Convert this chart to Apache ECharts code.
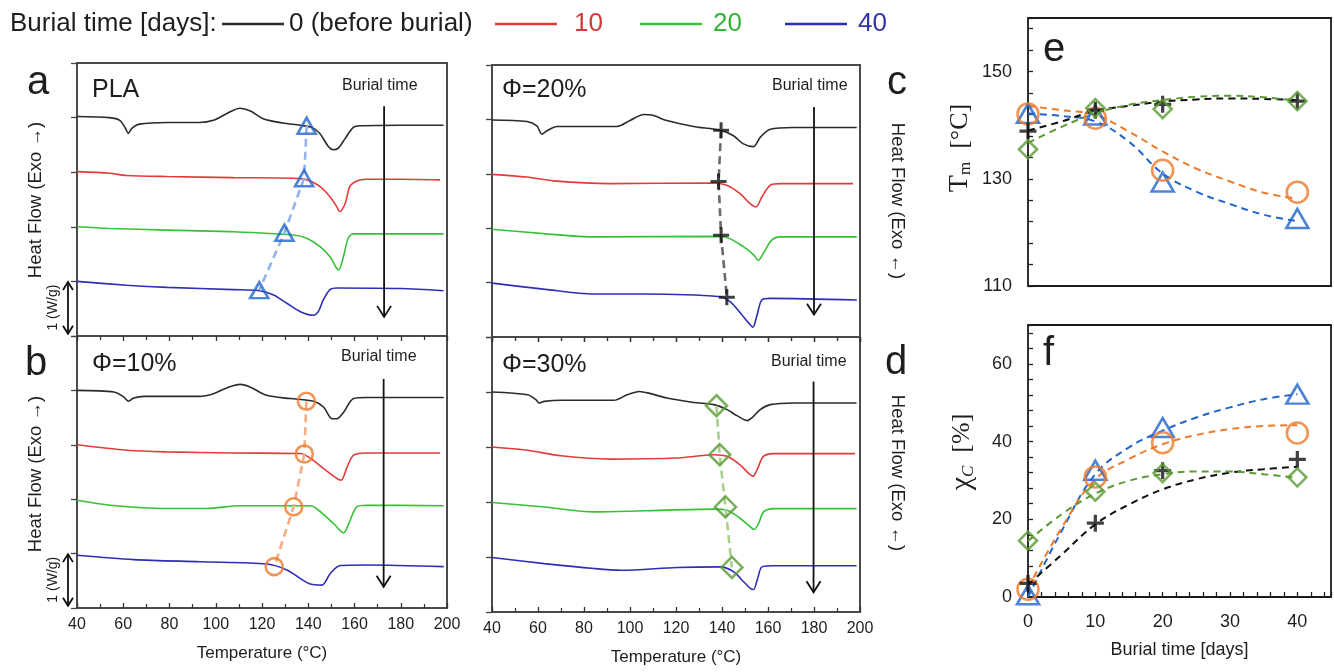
<!DOCTYPE html>
<html>
<head>
<meta charset="utf-8">
<title>PLA burial – DSC, Tm and crystallinity</title>
<script src="https://cdn.jsdelivr.net/npm/echarts/dist/echarts.min.js"></script>
<style>
  html, body { margin: 0; padding: 0; background: #fff; }
  #chart { width: 1334px; height: 672px; }
</style>
</head>
<body>
<div id="chart"></div>
<script>
// ---------------------------------------------------------------------------
// Data
// ---------------------------------------------------------------------------
const burialLabels = ['0 (before burial)', '10', '20', '40'];

// DSC heating traces: [temperature (°C), heat flow (W/g, traces stacked 1 W/g apart)]
const plaDay0 = [[40,4.02],[54,4.0],[58.5,3.95],[61,3.8],[62.2,3.71],[63.6,3.8],[67,3.88],[79,3.91],[93,3.91],[99,3.95],[105,4.08],[110.5,4.17],[115,4.12],[120.5,3.98],[129,3.9],[136.5,3.86],[141.5,3.82],[145,3.71],[148.7,3.47],[150.8,3.41],[153,3.44],[156,3.62],[159.5,3.82],[162.5,3.85],[180,3.86],[198.5,3.86]];
const plaDay10 = [[40,3.01],[54,2.98],[61.5,2.94],[79,2.92],[107.5,2.9],[133.5,2.89],[139.3,2.86],[145,2.74],[149.4,2.55],[152.3,2.37],[153.7,2.28],[156,2.43],[158,2.74],[161,2.84],[165,2.87],[180,2.87],[197,2.86]];
const plaDay20 = [[40,2.0],[54,1.97],[79,1.94],[107.5,1.91],[133.5,1.85],[139.3,1.79],[145,1.64],[149.4,1.45],[152.3,1.24],[153.2,1.21],[155.2,1.45],[157.3,1.79],[159.5,1.87],[180,1.87],[198.5,1.87]];
const plaDay40 = [[40,1.0],[61.5,0.93],[79,0.89],[107.5,0.85],[119,0.83],[125,0.75],[130.7,0.6],[136.4,0.45],[142.2,0.38],[144.4,0.45],[146.5,0.66],[149.4,0.85],[152.3,0.88],[180,0.87],[198.5,0.83]];

const phi10Day0 = [[40,4.0],[56,3.97],[60.2,3.88],[62.3,3.8],[64.5,3.86],[69,3.89],[93,3.89],[99,3.94],[105,4.05],[110.6,4.11],[115,4.06],[122,3.91],[132.3,3.85],[142.3,3.8],[146.7,3.69],[150.3,3.48],[152.4,3.48],[155.3,3.6],[159.6,3.85],[165.4,3.87],[198.6,3.87]];
const phi10Day10 = [[40,3.0],[61.6,2.9],[79,2.87],[107.7,2.85],[136.6,2.84],[141,2.75],[146.7,2.56],[152.4,2.38],[154.2,2.35],[156.8,2.59],[159.6,2.81],[165.4,2.85],[197,2.85]];
const phi10Day20 = [[40,1.98],[54.4,1.89],[79,1.83],[96,1.83],[110.6,1.88],[141,1.88],[145.2,1.77],[151,1.55],[155.3,1.38],[157.5,1.55],[161,1.86],[165.4,1.89],[198.6,1.88]];
const phi10Day40 = [[40,0.97],[64.5,0.89],[93.3,0.85],[122.2,0.81],[130.8,0.7],[136.6,0.54],[140.9,0.44],[145.9,0.42],[149.6,0.64],[153.9,0.78],[165.4,0.79],[198.6,0.76]];

const phi20Day0 = [[40,3.99],[55.2,3.96],[59.5,3.88],[61.7,3.73],[63.9,3.79],[68.2,3.87],[94.3,3.87],[100,3.98],[106,4.09],[109.5,4.08],[116,3.98],[127.6,3.87],[139.2,3.8],[145,3.7],[149.3,3.55],[153.7,3.5],[156.6,3.67],[161,3.82],[171,3.85],[198.6,3.85]];
const phi20Day10 = [[40,2.99],[55.2,2.94],[66.8,2.87],[91.4,2.82],[134.8,2.83],[142,2.79],[148,2.63],[152.2,2.45],[154.8,2.39],[157.3,2.57],[161,2.79],[165.3,2.82],[197,2.82]];
const phi20Day20 = [[40,1.98],[62.4,1.9],[84.2,1.84],[134.8,1.85],[142,1.83],[149.3,1.66],[153.7,1.51],[155.8,1.41],[158,1.54],[161.6,1.78],[165.3,1.84],[198.6,1.84]];
const phi20Day40 = [[40,0.99],[62.4,0.88],[84.2,0.79],[106,0.79],[139.2,0.74],[143.5,0.65],[148,0.44],[151.5,0.26],[153.4,0.18],[155.1,0.38],[157.3,0.68],[161,0.71],[198.6,0.68]];

const phi30Day0 = [[40,4.0],[55.5,3.95],[59.1,3.86],[60.5,3.8],[62.7,3.83],[70,3.85],[93,3.85],[98.8,3.95],[104,4.01],[109,3.97],[116,3.89],[127.7,3.81],[136.4,3.77],[142.2,3.68],[146.5,3.57],[151,3.48],[153,3.53],[156.6,3.68],[161,3.77],[171,3.8],[198.5,3.8]];
const phi30Day10 = [[40,3.0],[55.5,2.94],[70,2.84],[91.6,2.78],[120.5,2.8],[136.4,2.86],[142.2,2.83],[148,2.67],[151.6,2.52],[153.5,2.47],[155.2,2.58],[158,2.83],[162.4,2.88],[197.8,2.88]];
const phi30Day20 = [[40,1.99],[62.7,1.91],[84.4,1.82],[106,1.84],[136.4,1.87],[142.2,1.85],[148,1.7],[152.3,1.55],[154,1.5],[155.9,1.61],[158.1,1.82],[162.4,1.88],[198.5,1.88]];
const phi30Day40 = [[40,0.99],[62.7,0.88],[84.4,0.79],[96,0.76],[120.5,0.81],[139.3,0.82],[145.1,0.73],[149.4,0.55],[152.3,0.43],[153.7,0.41],[155.5,0.61],[157.4,0.82],[162.4,0.84],[198.5,0.84]];

// Melting onset marked on each trace (0, 10, 20, 40 days)
const plaOnset   = [[139.3,3.85],[138.2,2.89],[129.7,1.89],[118.8,0.84]];
const phi10Onset = [[139.2,3.80],[138.3,2.83],[133.7,1.86],[125.3,0.76]];
const phi20Onset = [[139.6,3.80],[138.5,2.86],[139.6,1.87],[142.1,0.73]];
const phi30Onset = [[137.6,3.75],[139.0,2.86],[141.5,1.91],[144.3,0.81]];

// Melting temperature Tm (°C) versus burial time (days)
const sampleDays = [0, 10, 20, 40];
const tmPLA   = [142.2, 141.9, 129.4, 122.6];
const tmPhi10 = [142.1, 141.3, 131.6, 127.5];
const tmPhi20 = [138.9, 142.8, 143.9, 144.5];
const tmPhi30 = [135.5, 143.2, 143.0, 144.5];

// Crystallinity χc (%) versus burial time (days)
const xcPLA   = [0.6, 32.6, 43.6, 52.2];
const xcPhi10 = [2.0, 30.9, 39.7, 42.2];
const xcPhi20 = [3.5, 19.0, 32.5, 35.4];
const xcPhi30 = [14.5, 27.1, 31.9, 30.8];

// Fitted trend curves
const fitDays = [0, 5, 10, 15, 20, 25, 30, 35, 40];
const tmFitPLA   = [142.2, 141.7, 140.7, 136.9, 131.0, 127.6, 125.3, 123.3, 122.1];
const tmFitPhi10 = [143.6, 142.8, 141.9, 138.8, 135.1, 131.9, 129.5, 127.4, 126.3];
const tmFitPhi20 = [139.0, 140.7, 142.7, 143.6, 144.4, 144.8, 145.0, 144.9, 144.7];
const tmFitPhi30 = [136.7, 139.7, 142.2, 143.8, 144.7, 145.3, 145.5, 145.2, 144.6];
const xcFitPLA   = [0.0, 17.0, 31.6, 38.5, 42.8, 46.2, 48.8, 50.9, 52.2];
const xcFitPhi10 = [2.3, 17.8, 30.3, 35.5, 39.3, 41.7, 43.2, 44.0, 44.2];
const xcFitPhi20 = [3.2, 10.9, 18.7, 23.8, 27.7, 30.3, 32.0, 32.9, 33.5];
const xcFitPhi30 = [14.4, 21.3, 26.6, 29.9, 31.6, 32.3, 32.3, 31.6, 30.7];

// ---------------------------------------------------------------------------
// Styling
// ---------------------------------------------------------------------------
const FONT = '"Liberation Sans", Arial, Helvetica, sans-serif';
const SERIF = '"Liberation Serif", "Times New Roman", serif';
const INK = '#1e1e1e';

const curveColors = ['#2b2b2b', '#e23b3b', '#36c236', '#2e2eb6'];
const legendTextColors = ['#1e1e1e', '#cf3a3a', '#34b334', '#3434a6'];
const legendLefts = [222, 495, 640, 785];
const legendTextPads = [0, 12, 6, 6];

const CROSS = 'path://M-1.7,-9L1.7,-9L1.7,-1.7L9,-1.7L9,1.7L1.7,1.7L1.7,9L-1.7,9L-1.7,1.7L-9,1.7L-9,-1.7L-1.7,-1.7Z';

const sampleStyles = {
  PLA:   { name: 'PLA',   symbol: 'triangle', color: '#2265cc', hollow: true },
  phi10: { name: 'Φ=10%', symbol: 'circle',   color: '#ee7a2c', hollow: true },
  phi20: { name: 'Φ=20%', symbol: CROSS,      color: '#111111', hollow: false },
  phi30: { name: 'Φ=30%', symbol: 'diamond',  color: '#5b9b35', hollow: true }
};

function markerItemStyle(s, bw) {
  return s.hollow
    ? { color: 'rgba(255,255,255,0)', borderColor: s.color, borderWidth: bw }
    : { color: s.color, borderWidth: 0 };
}

// ---------------------------------------------------------------------------
// Layout: a, b (left column), c, d (middle column), e, f (right column)
// ---------------------------------------------------------------------------
const grid = [
  { left: 77,   top: 63,  width: 370, height: 273 },
  { left: 77,   top: 336, width: 370, height: 272 },
  { left: 492,  top: 65,  width: 368, height: 272 },
  { left: 492,  top: 337, width: 368, height: 275 },
  { left: 1028, top: 18,  width: 303, height: 268 },
  { left: 1028, top: 325, width: 303, height: 272 }
].map((g, i) => Object.assign({
  show: true,
  borderColor: i < 4 ? '#4a4a4a' : '#1a1a1a',
  borderWidth: i < 4 ? 2 : 1.8,
  backgroundColor: 'transparent'
}, g));

function tempAxis(gridIndex, position, ticks, labels) {
  return {
    type: 'value', gridIndex, position, min: 40, max: 200, interval: 20,
    axisLine: { show: false },
    axisTick: { show: ticks, inside: true, length: 5, lineStyle: { color: '#333', width: 1.3 } },
    minorTick: { show: ticks, splitNumber: 2, length: 4, lineStyle: { color: '#333', width: 1.2 } },
    splitLine: { show: false },
    axisLabel: { show: labels, margin: 9, fontSize: 16, color: INK, fontFamily: FONT },
    name: labels ? 'Temperature (°C)' : '',
    nameLocation: 'middle', nameGap: 37,
    nameTextStyle: { fontSize: 17, color: INK, fontFamily: FONT }
  };
}

function heatAxis(gridIndex) {
  return {
    type: 'value', gridIndex, min: 0, max: 5, interval: 1,
    axisLine: { show: false },
    axisTick: { show: true, inside: false, length: 6, lineStyle: { color: '#444', width: 1.3 } },
    axisLabel: { show: false },
    splitLine: { show: false }
  };
}

const xAxis = [
  tempAxis(0, 'bottom', false, false), // 0: a
  tempAxis(1, 'bottom', true, true),   // 1: b
  tempAxis(1, 'top', true, false),     // 2: b top ticks
  tempAxis(2, 'top', true, false),     // 3: c top ticks
  tempAxis(2, 'bottom', false, false), // 4: c
  tempAxis(3, 'bottom', true, true),   // 5: d
  tempAxis(3, 'top', true, false),     // 6: d top ticks
  { // 7: e
    type: 'value', gridIndex: 4, min: 0, max: 45,
    axisLine: { show: false }, axisTick: { show: false }, axisLabel: { show: false }, splitLine: { show: false }
  },
  { // 8: f
    type: 'value', gridIndex: 5, min: 0, max: 45, interval: 2,
    axisLine: { show: false },
    axisTick: { show: true, inside: true, length: 5, lineStyle: { color: '#222', width: 1.3 } },
    axisLabel: {
      margin: 16, fontSize: 18, color: INK, fontFamily: FONT,
      formatter: v => (v % 10 === 0 ? String(v) : '')
    },
    splitLine: { show: false },
    name: 'Burial time [days]', nameLocation: 'middle', nameGap: 44,
    nameTextStyle: { fontSize: 18, color: INK, fontFamily: FONT }
  }
];

const yAxis = [
  heatAxis(0), heatAxis(1), heatAxis(2), heatAxis(3),
  { // 4: Tm
    type: 'value', gridIndex: 4, min: 110, max: 160, interval: 4,
    axisLine: { show: false },
    axisTick: { show: true, inside: true, length: 5, lineStyle: { color: '#222', width: 1.3 } },
    axisLabel: {
      margin: 16, fontSize: 18, color: INK, fontFamily: FONT,
      formatter: v => ((v === 110 || v === 130 || v === 150) ? String(v) : '')
    },
    splitLine: { show: false }
  },
  { // 5: crystallinity
    type: 'value', gridIndex: 5, min: 0, max: 70, interval: 4,
    axisLine: { show: false },
    axisTick: { show: true, inside: true, length: 5, lineStyle: { color: '#222', width: 1.3 } },
    axisLabel: {
      margin: 16, fontSize: 18, color: INK, fontFamily: FONT,
      formatter: v => ((v % 20 === 0 && v <= 60) ? String(v) : '')
    },
    splitLine: { show: false }
  }
];

// ---------------------------------------------------------------------------
// Series
// ---------------------------------------------------------------------------
const series = [];

const dscPanels = [
  { x: 0, y: 0, curves: [plaDay0, plaDay10, plaDay20, plaDay40],         onset: plaOnset,   style: sampleStyles.PLA,   size: [18, 16], link: '#93b3ea' },
  { x: 1, y: 1, curves: [phi10Day0, phi10Day10, phi10Day20, phi10Day40], onset: phi10Onset, style: sampleStyles.phi10, size: 17,       link: '#f4ad86' },
  { x: 4, y: 2, curves: [phi20Day0, phi20Day10, phi20Day20, phi20Day40], onset: phi20Onset, style: sampleStyles.phi20, size: 16,       link: '#6a6a6a' },
  { x: 5, y: 3, curves: [phi30Day0, phi30Day10, phi30Day20, phi30Day40], onset: phi30Onset, style: sampleStyles.phi30, size: 21,       link: '#a8cf8c' }
];

dscPanels.forEach(p => {
  p.curves.forEach((curve, ci) => {
    series.push({
      type: 'line', name: burialLabels[ci], xAxisIndex: p.x, yAxisIndex: p.y,
      data: curve, symbol: 'none', smooth: 0.3, silent: true, z: 2,
      lineStyle: { color: curveColors[ci], width: 1.6 },
      itemStyle: { color: curveColors[ci] }
    });
  });
  series.push({
    type: 'line', name: p.style.name + ' onset', xAxisIndex: p.x, yAxisIndex: p.y,
    data: p.onset, symbol: 'none', silent: true, z: 3,
    lineStyle: { color: p.link, width: 2.6, type: [8, 5] }
  });
  series.push({
    type: 'scatter', name: p.style.name, xAxisIndex: p.x, yAxisIndex: p.y,
    data: p.onset, symbol: p.style.symbol, symbolSize: p.size, silent: true, z: 4,
    itemStyle: markerItemStyle(p.style, 2.6)
  });
});

const trendPanels = [
  { x: 7, y: 4, groups: [
    { style: sampleStyles.PLA,   fit: tmFitPLA,   pts: tmPLA,   size: [22, 19] },
    { style: sampleStyles.phi10, fit: tmFitPhi10, pts: tmPhi10, size: 21 },
    { style: sampleStyles.phi20, fit: tmFitPhi20, pts: tmPhi20, size: 17 },
    { style: sampleStyles.phi30, fit: tmFitPhi30, pts: tmPhi30, size: 18 }
  ]},
  { x: 8, y: 5, groups: [
    { style: sampleStyles.PLA,   fit: xcFitPLA,   pts: xcPLA,   size: [22, 19] },
    { style: sampleStyles.phi10, fit: xcFitPhi10, pts: xcPhi10, size: 21 },
    { style: sampleStyles.phi20, fit: xcFitPhi20, pts: xcPhi20, size: 17 },
    { style: sampleStyles.phi30, fit: xcFitPhi30, pts: xcPhi30, size: 18 }
  ]}
];

trendPanels.forEach(p => {
  p.groups.forEach(g => {
    series.push({
      type: 'line', name: g.style.name + ' fit', xAxisIndex: p.x, yAxisIndex: p.y,
      data: fitDays.map((d, i) => [d, g.fit[i]]), symbol: 'none', smooth: 0.4, silent: true, z: 3,
      lineStyle: { color: g.style.color, width: 2, type: [7, 5] }
    });
  });
  p.groups.forEach(g => {
    series.push({
      type: 'scatter', name: g.style.name, xAxisIndex: p.x, yAxisIndex: p.y,
      data: sampleDays.map((d, i) => [d, g.pts[i]]), symbol: g.style.symbol, symbolSize: g.size,
      silent: true, z: 4, itemStyle: markerItemStyle(g.style, 2.6)
    });
  });
});

// ---------------------------------------------------------------------------
// Legend: one component per burial time so each sits at its own spot
// ---------------------------------------------------------------------------
const legend = burialLabels.map((name, i) => ({
  data: [{ name, textStyle: { color: legendTextColors[i], padding: [0, 0, 0, legendTextPads[i]] } }],
  left: legendLefts[i], top: 11, padding: 0,
  icon: 'rect', itemWidth: 62, itemHeight: 2.5, itemGap: 0,
  selectedMode: false,
  textStyle: { fontSize: 26, fontFamily: FONT }
}));

const option = {
  animation: false,
  backgroundColor: '#ffffff',
  title: {
    text: 'Burial time [days]:', left: 10, top: 11, padding: 0,
    textStyle: { fontSize: 26, fontWeight: 'normal', fontFamily: FONT, color: INK }
  },
  legend, grid, xAxis, yAxis, series
};

const chart = echarts.init(document.getElementById('chart'), null, { renderer: 'canvas' });
chart.setOption(option);

// ---------------------------------------------------------------------------
// Annotations: panel letters, sample names, arrows and rotated axis titles
// ---------------------------------------------------------------------------
const els = [];
const toPx = (gi, pt) => chart.convertToPixel({ gridIndex: gi }, pt);

function text(str, x, y, size, opt) {
  opt = opt || {};
  els.push({
    type: 'text', x, y, rotation: opt.rotation || 0, z: 100, silent: true,
    style: {
      text: str, fill: opt.color || INK, fontSize: size,
      fontFamily: opt.family || FONT,
      align: opt.align || 'left', verticalAlign: 'middle',
      rich: opt.rich
    }
  });
}

function chevron(x, y, hw, h, dir, lw) {
  els.push({
    type: 'polyline', z: 100, silent: true,
    shape: { points: [[x - hw, y - dir * h], [x, y], [x + hw, y - dir * h]] },
    style: { stroke: '#111', lineWidth: lw, fill: 'none' }
  });
}

function arrow(gi, t, from, to, hw, h, lw, both) {
  const a = toPx(gi, [t, from]);
  const b = toPx(gi, [t, to]);
  els.push({
    type: 'line', z: 100, silent: true,
    shape: { x1: a[0], y1: a[1], x2: b[0], y2: b[1] },
    style: { stroke: '#111', lineWidth: lw }
  });
  chevron(b[0], b[1], hw, h, 1, lw);
  if (both) chevron(a[0], a[1], hw, h, -1, lw);
}

// Burial-time arrows (temperature, heat flow from → to)
const burialArrows = [
  [0, 172.8, 4.21, 0.35],
  [1, 172.6, 4.21, 0.39],
  [2, 180.0, 4.23, 0.41],
  [3, 179.8, 4.19, 0.36]
];
burialArrows.forEach(([gi, t, f, e]) => arrow(gi, t, f, e, 7, 11, 1.8, false));

// 1 W/g scale bars beside panels a and b
[0, 1].forEach(gi => {
  arrow(gi, 36.1, 0.99, 0.04, 5, 8, 1.8, true);
  const c = toPx(gi, [29.5, 0.52]);
  text('1 (W/g)', c[0], c[1], 14, { rotation: Math.PI / 2, align: 'center' });
});

// Panel letters
text('a', 27, 83, 40);
text('b', 25, 364, 40);
text('c', 887, 83, 40);
text('d', 885, 363, 40);
text('e', 1043, 50, 40);
text('f', 1043, 354, 40);

// Sample names
text('PLA', 92, 90, 25);
text('Φ=10%', 92, 364, 25);
text('Φ=20%', 502, 90, 25);
text('Φ=30%', 502, 365, 25);

// "Burial time" captions above the arrows
text('Burial time', 342, 86, 16);
text('Burial time', 341, 357, 16);
text('Burial time', 772, 86, 16);
text('Burial time', 771, 362, 16);

// Heat-flow axis titles
text('Heat Flow (Exo →)', 36, 200, 18.5, { rotation: Math.PI / 2, align: 'center' });
text('Heat Flow (Exo →)', 36, 474, 18.5, { rotation: Math.PI / 2, align: 'center' });
text('Heat Flow (Exo ←)', 897, 201, 18.5, { rotation: -Math.PI / 2, align: 'center' });
text('Heat Flow (Exo ←)', 897, 473, 18.5, { rotation: -Math.PI / 2, align: 'center' });

// Tm and χc axis titles
text('{t|T}{s|m}  {u|[°C]}', 960, 148, 26, {
  rotation: Math.PI / 2, align: 'center', family: SERIF,
  rich: {
    t: { fontSize: 28, fontFamily: SERIF, fill: INK },
    s: { fontSize: 17, fontFamily: SERIF, fill: INK, verticalAlign: 'bottom' },
    u: { fontSize: 26, fontFamily: SERIF, fill: INK }
  }
});
text('{t|χ}{s|C}  {u|[%]}', 962, 452, 26, {
  rotation: Math.PI / 2, align: 'center', family: SERIF,
  rich: {
    t: { fontSize: 30, fontFamily: SERIF, fill: INK },
    s: { fontSize: 17, fontFamily: SERIF, fontStyle: 'italic', fill: INK, verticalAlign: 'bottom' },
    u: { fontSize: 26, fontFamily: SERIF, fill: INK }
  }
});

chart.setOption({ graphic: els });
</script>
</body>
</html>
